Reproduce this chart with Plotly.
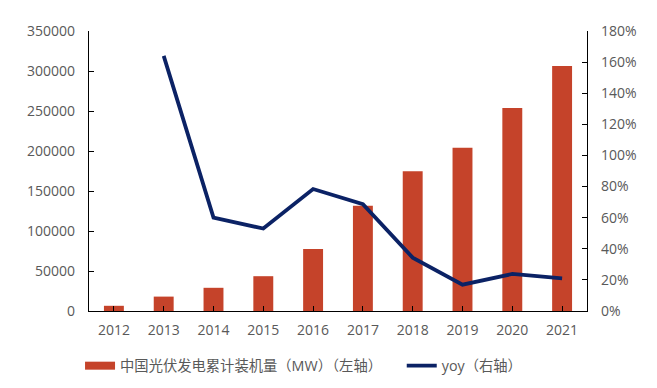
import plotly.graph_objects as go

years = ["2012", "2013", "2014", "2015", "2016", "2017", "2018", "2019", "2020", "2021"]
capacity_mw = [6500, 18000, 29000, 43500, 77500, 131500, 174600, 204000, 253800, 306200]
yoy = [None, 1.64, 0.60, 0.53, 0.784, 0.686, 0.343, 0.169, 0.238, 0.21]

left_ticks = [0, 50000, 100000, 150000, 200000, 250000, 300000, 350000]
right_ticks = [0, 0.2, 0.4, 0.6, 0.8, 1.0, 1.2, 1.4, 1.6, 1.8]

bar_name = "中国光伏发电累计装机量（MW）（左轴）"
line_name = "yoy（右轴）"

FONT = "Open Sans, Noto Sans CJK SC, sans-serif"
GRAY = "#595959"
RED = "#C5432A"
NAVY = "#0B2265"

fig = go.Figure()
fig.add_trace(go.Bar(x=years, y=capacity_mw, name=bar_name, showlegend=False,
                     marker=dict(color=RED, line=dict(width=0)), yaxis="y"))
fig.add_trace(go.Scatter(x=years, y=yoy, name=line_name, mode="lines", legend="legend2",
                         line=dict(color=NAVY, width=3.8), yaxis="y2"))
# legend proxy for the bar series (wide swatch like the original)
fig.add_trace(go.Scatter(x=[None], y=[None], name=bar_name, mode="lines", legend="legend",
                         line=dict(color=RED, width=8), yaxis="y"))

axis_common = dict(showline=True, linecolor="black", linewidth=1.3, ticks="inside",
                   ticklen=5, tickcolor="black", showgrid=False, zeroline=False,
                   automargin=False, tickfont=dict(family=FONT, size=14, color=GRAY))

legend_common = dict(orientation="h", xanchor="left", y=-0.196, yanchor="middle",
                     font=dict(family=FONT, size=14.3, color=GRAY),
                     bgcolor="rgba(0,0,0,0)", borderwidth=0)

fig.update_layout(
    width=657, height=388,
    margin=dict(l=89, r=70, t=31, b=77, autoexpand=False),
    plot_bgcolor="white", paper_bgcolor="white",
    bargap=0.6,
    font=dict(family=FONT, size=14, color=GRAY),
    xaxis=dict(**axis_common, type="category", ticklabelstandoff=6),
    yaxis=dict(**axis_common, range=[0, 350000], tickvals=left_ticks,
               ticktext=[str(v) for v in left_ticks], ticklabelstandoff=10),
    yaxis2=dict(**axis_common, range=[0, 1.8], tickvals=right_ticks,
                ticktext=[f"{int(round(v*100))}%" for v in right_ticks],
                overlaying="y", side="right", ticklabelstandoff=10),
    legend=dict(**legend_common, x=-0.018),
    legend2=dict(**legend_common, x=0.628),
)

fig.write_html("out.html", config={"displayModeBar": False},
               post_script="document.body.style.margin='0';")
